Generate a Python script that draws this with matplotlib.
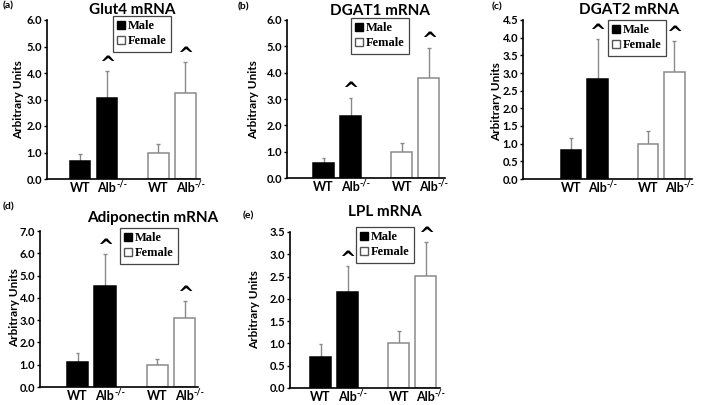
import numpy as np
import matplotlib
matplotlib.use('Agg')
import matplotlib.pyplot as plt
from matplotlib.patches import Patch

plt.rcParams['font.family'] = ['Lato', 'DejaVu Sans']
plt.rcParams['font.weight'] = 'bold'

# data
panel_labels = ['(a)', '(b)', '(c)', '(d)', '(e)']
titles = ['Glut4 mRNA', 'DGAT1 mRNA', 'DGAT2 mRNA', 'Adiponectin mRNA', 'LPL mRNA']
groups = ['WT', 'Alb', 'WT', 'Alb']
knockout = [False, True, False, True]
sex = ['Male', 'Male', 'Female', 'Female']
glut4 = [0.68, 3.05, 1.00, 3.25]
glut4_err = [0.25, 1.02, 0.33, 1.17]
dgat1 = [0.58, 2.37, 1.00, 3.80]
dgat1_err = [0.18, 0.68, 0.33, 1.15]
dgat2 = [0.83, 2.82, 1.00, 3.02]
dgat2_err = [0.32, 1.13, 0.35, 0.88]
adipo = [1.12, 4.52, 1.00, 3.10]
adipo_err = [0.40, 1.45, 0.25, 0.75]
lpl = [0.70, 2.15, 1.00, 2.52]
lpl_err = [0.28, 0.59, 0.29, 0.76]
significant = [False, True, False, True]
y_max = [6.0, 6.0, 4.5, 7.0, 3.5]
y_step = [1.0, 1.0, 0.5, 1.0, 0.5]

means = [glut4, dgat1, dgat2, adipo, lpl]
errs = [glut4_err, dgat1_err, dgat2_err, adipo_err, lpl_err]

W, H = 709, 405
# pixel layout: axis x, first bar centre, px per unit, axis right end, top, bottom
layout = [
    (47, 80, 27, 200, 20, 179),
    (287, 323.5, 27, 445, 20, 178),
    (523, 571, 26.5, 692, 20, 179),
    (40, 77.5, 27.5, 198, 231, 387),
    (290, 320.5, 27, 440, 232, 388),
]
legend_xy = [(113, 16), (351, 18), (608, 20), (120, 228), (356, 227)]
label_xy = [(3, 6), (238, 7), (492, 7), (3, 207), (243, 216)]
title_xy = [(132, 10), (380, 11), (629, 10), (153, 218), (385, 212)]
ylabel_xy = [(18.5, 100), (254, 100), (497, 102), (15, 308), (255, 310)]
xpos = np.array([0, 1, 2.9, 3.9])

fig = plt.figure(figsize=(W / 100, H / 100), dpi=100)

for i in range(5):
    ax_x, c0, unit, x_end, top, bot = layout[i]
    ax = fig.add_axes([ax_x / W, 1 - bot / H, (x_end - ax_x) / W, (bot - top) / H])
    vals = np.array(means[i])
    e = np.array(errs[i])
    face = ['black' if s == 'Male' else 'white' for s in sex]
    edge = ['black' if s == 'Male' else '#8a8a8a' for s in sex]
    ax.bar(xpos, vals, width=0.77, color=face, edgecolor=edge, linewidth=1.1, zorder=2)
    ax.vlines(xpos, vals, vals + e, color='#8a8a8a', linewidth=1.0, zorder=1)
    ax.hlines(vals + e, xpos - 0.07, xpos + 0.07, color='#8a8a8a', linewidth=1.0, zorder=1)
    for x, v, s in zip(xpos, vals + e, significant):
        if s:
            ax.annotate('^', (x, v), xytext=(0, -2), textcoords='offset points',
                        ha='center', va='bottom', fontsize=14, fontweight='bold',
                        family='DejaVu Sans')
    ax.set_xlim((ax_x - c0) / unit, (x_end - c0) / unit)
    ax.set_ylim(0, y_max[i])
    ticks = np.arange(0, y_max[i] + 1e-9, y_step[i])
    ax.set_yticks(ticks)
    ax.set_yticklabels(['%.1f' % t for t in ticks])
    ax.set_xticks([])
    ax.tick_params(axis='y', length=2.5, width=1.0, pad=1, labelsize=8)
    for sp in ['top', 'right']:
        ax.spines[sp].set_visible(False)
    for sp in ['left', 'bottom']:
        ax.spines[sp].set_linewidth(1.2)

    # group labels under the bars
    tr = ax.get_xaxis_transform()
    for x, g, ko in zip(xpos, groups, knockout):
        if ko:
            ax.annotate(g, (x, 0), xycoords=tr, xytext=(-7, -9.5), textcoords='offset points',
                        ha='left', va='baseline', fontsize=9, fontweight='bold',
                        annotation_clip=False)
            ax.annotate('-/-', (x, 0), xycoords=tr, xytext=(6.5, -5.5), textcoords='offset points',
                        ha='left', va='baseline', fontsize=6.5, fontweight='bold',
                        annotation_clip=False)
        else:
            ax.annotate(g, (x, 0), xycoords=tr, xytext=(0, -9.5), textcoords='offset points',
                        ha='center', va='baseline', fontsize=9, fontweight='bold',
                        annotation_clip=False)

    handles = [Patch(facecolor='black', edgecolor='black'),
               Patch(facecolor='white', edgecolor='#555555')]
    lx, ly = legend_xy[i]
    leg = ax.legend(handles, ['Male', 'Female'], loc='upper left',
                    bbox_to_anchor=(lx / W, 1 - ly / H), bbox_transform=fig.transFigure,
                    borderaxespad=0, fancybox=False, framealpha=1,
                    handlelength=0.6, handleheight=0.6, handletextpad=0.2,
                    labelspacing=0.25, borderpad=0.35,
                    prop={'family': 'Liberation Serif', 'weight': 'bold', 'size': 9})
    leg.get_frame().set_edgecolor('#444444')
    leg.get_frame().set_linewidth(0.9)

    px, py = label_xy[i]
    fig.text(px / W, 1 - py / H, panel_labels[i], fontsize=7.5, fontweight='bold',
             va='center', ha='left')
    tx, ty = title_xy[i]
    fig.text(tx / W, 1 - ty / H, titles[i], fontsize=11, fontweight='bold',
             va='center', ha='center')
    yx, yy = ylabel_xy[i]
    fig.text(yx / W, 1 - yy / H, 'Arbitrary Units', fontsize=8.5, fontweight='bold',
             rotation=90, va='center', ha='center')

fig.savefig('out.png', dpi=100)
